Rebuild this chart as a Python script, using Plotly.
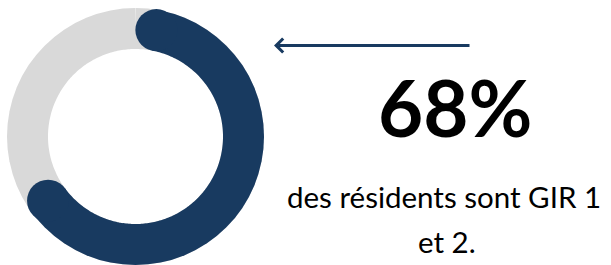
import numpy as np
import plotly.graph_objects as go

# ---- data ----
share_labels = ["GIR 1 et 2", "Autres GIR"]
share_values = [68, 32]
headline = "68%"
caption_lines = ["des résidents sont GIR 1", "et 2."]

NAVY = "#183A60"
GREY = "#D9D9D9"

W, H = 611, 265
# ring geometry (pixels)
poly_size = 257.0          # polar plot diameter in px
ring_mid_px = 108.5        # middle radius of the ring
ring_w_px = 42             # ring thickness
r_mid = ring_mid_px / (poly_size / 2)

total = sum(share_values)
span_deg = 360.0 * share_values[0] / total
cap_deg = np.degrees((ring_w_px / 2) / ring_mid_px)

fig = go.Figure()

# grey full ring
theta_full = np.linspace(0, 360, 361)
fig.add_trace(go.Scatterpolar(
    r=[r_mid] * len(theta_full), theta=theta_full, mode="lines",
    line=dict(color=GREY, width=ring_w_px), hoverinfo="skip",
    cliponaxis=False, showlegend=False, name=share_labels[1]))

# navy arc (68%) with rounded ends inside the span
theta_arc = np.linspace(cap_deg, span_deg - cap_deg, 240)
fig.add_trace(go.Scatterpolar(
    r=[r_mid] * len(theta_arc), theta=theta_arc, mode="lines",
    line=dict(color=NAVY, width=ring_w_px), hoverinfo="skip",
    cliponaxis=False, showlegend=False, name=share_labels[0]))
fig.add_trace(go.Scatterpolar(
    r=[r_mid, r_mid], theta=[theta_arc[0], theta_arc[-1]], mode="markers",
    marker=dict(color=NAVY, size=ring_w_px, line=dict(width=0)),
    hoverinfo="skip", cliponaxis=False, showlegend=False))

fig.update_layout(
    width=W, height=H,
    margin=dict(l=0, r=0, t=0, b=0),
    paper_bgcolor="white", plot_bgcolor="white",
    polar=dict(
        domain=dict(x=[7 / W, (7 + poly_size) / W], y=[0, poly_size / H]),
        bgcolor="rgba(0,0,0,0)",
        radialaxis=dict(visible=False, range=[0, 1]),
        angularaxis=dict(visible=False, rotation=90, direction="clockwise"),
    ),
)

# arrow
fig.add_annotation(
    x=274 / W, y=1 - 45.5 / H, xref="paper", yref="paper",
    ax=197, ay=0, text="", showarrow=True,
    arrowhead=4, arrowsize=0.9, arrowwidth=3, arrowcolor=NAVY,
)

# headline
fig.add_annotation(
    x=455 / W, y=1 - 107 / H, xref="paper", yref="paper",
    text=f"<b>{headline}</b>", showarrow=False,
    font=dict(family="Lato", size=78, color="black", weight=900),
    xanchor="center", yanchor="middle",
)

# caption
fig.add_annotation(
    x=444 / W, y=1 - 196 / H, xref="paper", yref="paper",
    text=caption_lines[0], showarrow=False,
    font=dict(family="Lato", size=29.5, color="black"),
    xanchor="center", yanchor="middle",
)
fig.add_annotation(
    x=447 / W, y=1 - 241 / H, xref="paper", yref="paper",
    text=caption_lines[1], showarrow=False,
    font=dict(family="Lato", size=29.5, color="black"),
    xanchor="center", yanchor="middle",
)

fig.write_html(
    "out.html",
    config={"displayModeBar": False},
    post_script="document.body.style.margin='0';document.body.style.overflow='hidden';",
)
